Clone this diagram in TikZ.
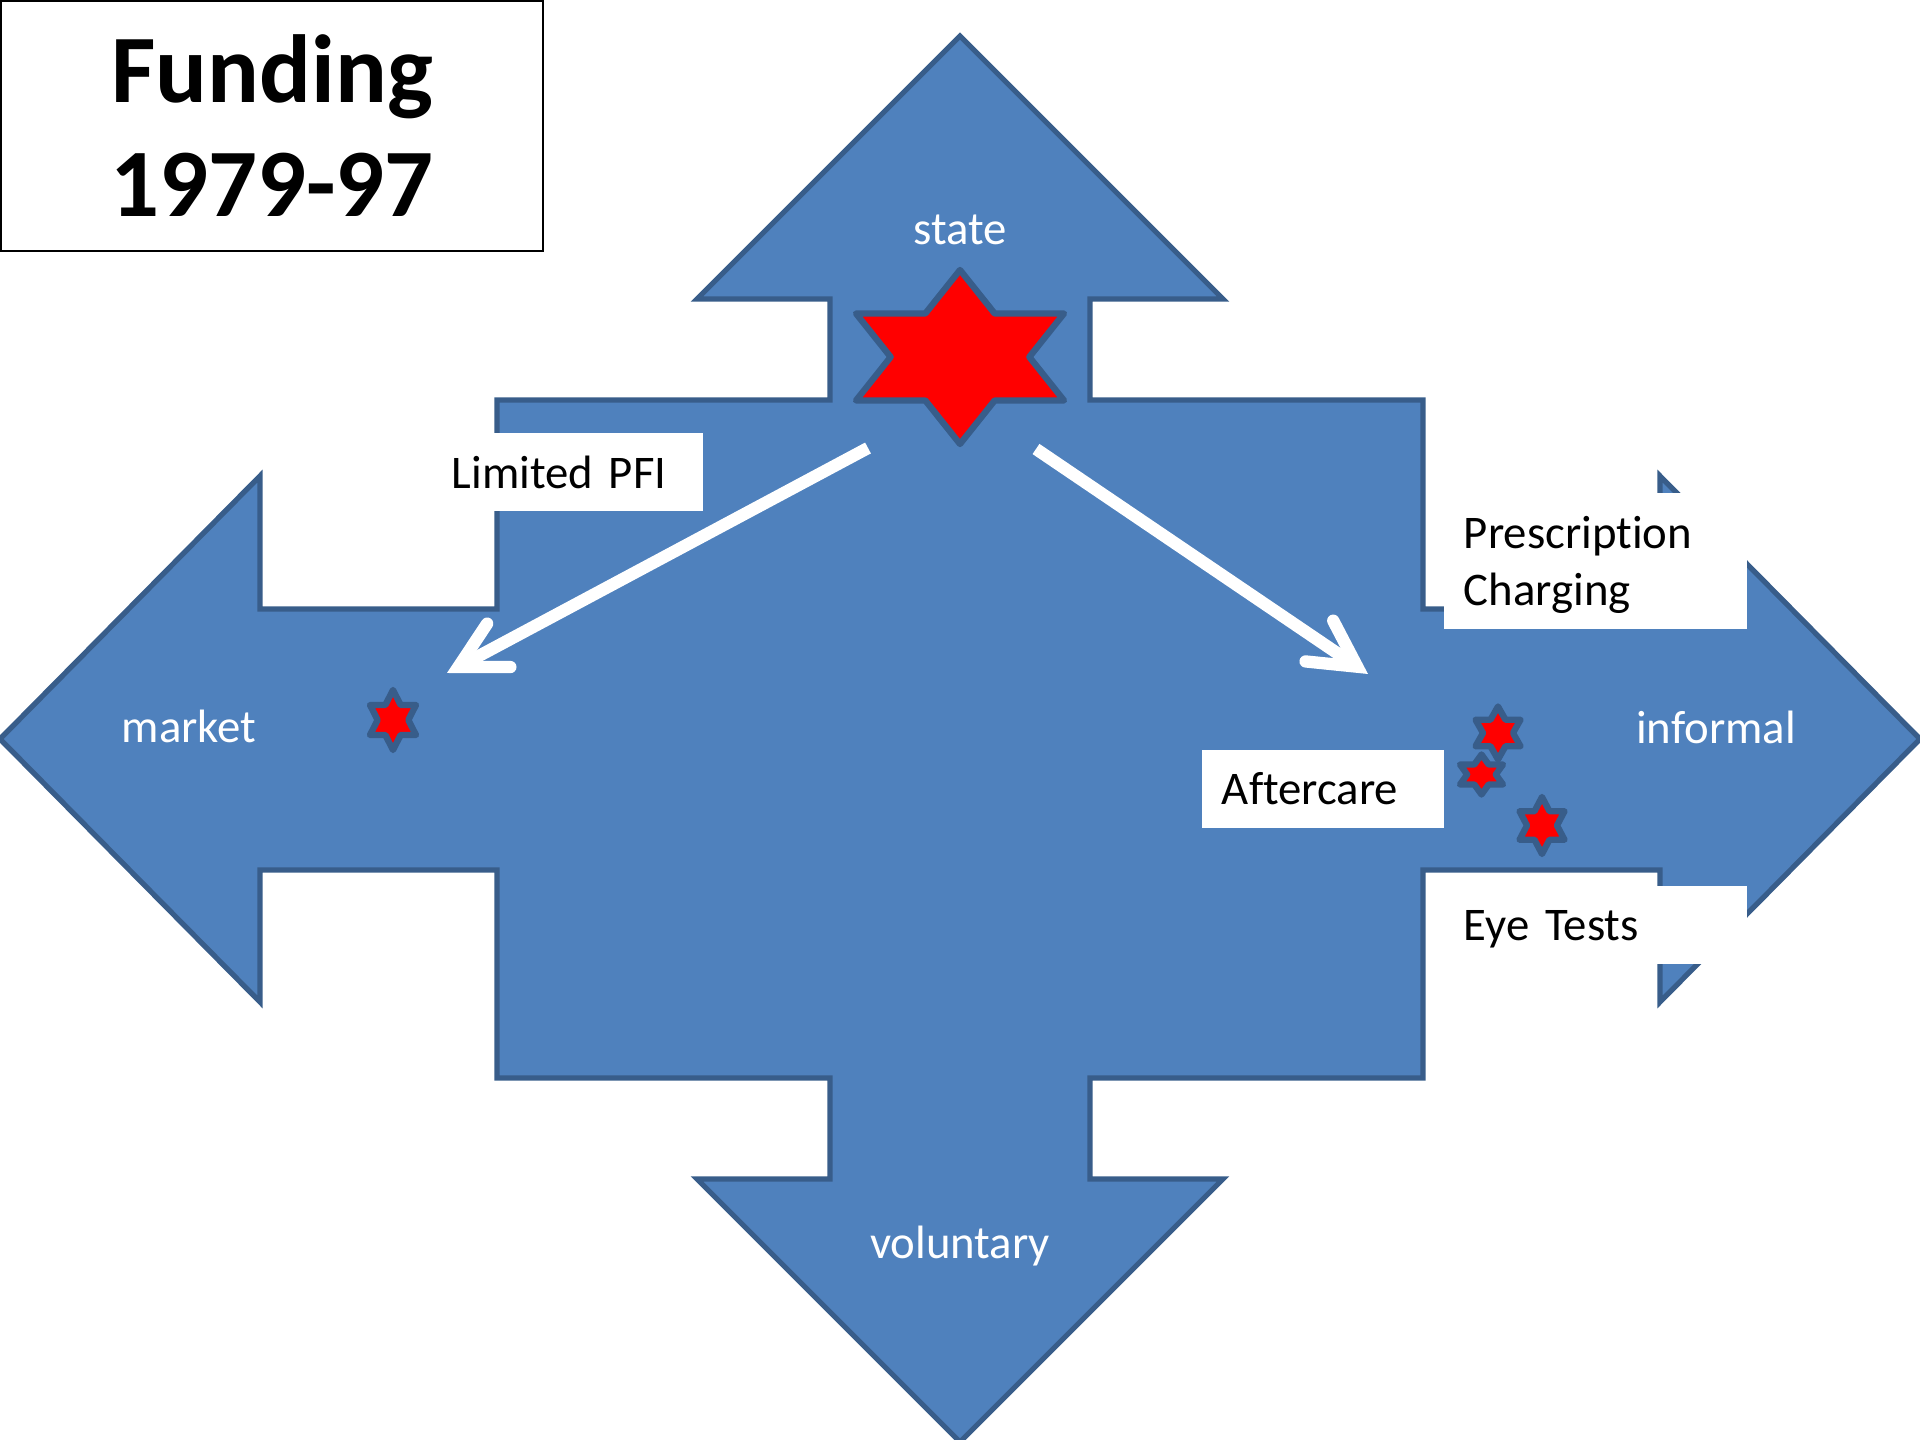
\documentclass[tikz,border=0pt]{standalone}
\usepackage{fontspec}
\setmainfont[Ligatures=NoCommon]{Carlito}
\usepackage{tikz}
\usetikzlibrary{arrows.meta}
\definecolor{armblue}{HTML}{4F81BD}
\definecolor{edgeblue}{HTML}{385D8A}
\tikzstyle{crossarrow} = [fill=armblue, draw=edgeblue, line width=1.5pt]
\tikzstyle{titlebox} = [rectangle, draw=black, line width=0.7pt, minimum width=54.2mm, minimum height=25mm, align=center, font=\bfseries\fontsize{27.5}{32.4}\selectfont]
\tikzstyle{labelbox} = [rectangle, fill=white, inner xsep=2mm, inner ysep=0pt, align=left, font=\fontsize{13.3}{16.3}\selectfont]
\tikzstyle{armlabel} = [text=white, anchor=base, font=\fontsize{13.3}{16.3}\selectfont]
\tikzstyle{redstar} = [fill=red, draw=edgeblue, line width=1.8pt, line join=round]
\tikzstyle{arrow} = [draw=white, line width=3.5pt, -{Straight Barb[line cap=round, line join=miter, length=13pt, width=14pt]}]
\newcommand{\sixstar}[4]{%
  \filldraw [redstar] ({#1},{#2-#4}) -- ({#1+#3/3},{#2-#4/2}) -- ({#1+#3},{#2-#4/2})
    -- ({#1+2*#3/3},{#2}) -- ({#1+#3},{#2+#4/2}) -- ({#1+#3/3},{#2+#4/2})
    -- ({#1},{#2+#4}) -- ({#1-#3/3},{#2+#4/2}) -- ({#1-#3},{#2+#4/2})
    -- ({#1-2*#3/3},{#2}) -- ({#1-#3},{#2-#4/2}) -- ({#1-#3/3},{#2-#4/2}) -- cycle;}

\begin{document}
\begin{tikzpicture}[x=0.01cm, y=-0.01cm]
               \useasboundingbox (0,0) rectangle (1920,1440);
               % four way arrow
               \draw [crossarrow] (960,36) -- (1223,299) -- (1090,299) -- (1090,400) -- (1423,400) -- (1423,609)
                 -- (1660,609) -- (1660,476) -- (1920,739) -- (1660,1002) -- (1660,870) -- (1423,870)
                 -- (1423,1078) -- (1090,1078) -- (1090,1179) -- (1223,1179) -- (960,1442) -- (697,1179)
                 -- (830,1179) -- (830,1078) -- (497,1078) -- (497,870) -- (260,870) -- (260,1002)
                 -- (0,739) -- (260,476) -- (260,609) -- (497,609) -- (497,400) -- (830,400)
                 -- (830,299) -- (697,299) -- cycle;
               \node [titlebox] at (272,126) (title) {Funding\\1979-97};
               \node [labelbox, text width=23.1mm, minimum height=7.8mm] at (567.5,472) (pfi) {Limited PFI};
               \node [labelbox, text width=26.3mm, minimum height=13.6mm, text depth=16.3pt] at (1595.5,561) (prescription) {Prescription\\Charging};
               \node [labelbox, text width=20.2mm, minimum height=7.8mm] at (1323,789) (aftercare) {Aftercare};
               \node [labelbox, text width=26.3mm, minimum height=7.8mm, text depth=0pt] at (1595.5,925) (eyetests) {Eye Tests};
               \node [armlabel] at (960,245) (state) {state};
               \node [armlabel] at (189,743) (market) {market};
               \node [armlabel] at (1716,744) (informal) {informal};
               \node [armlabel] at (960,1259) (voluntary) {voluntary};
               \coordinate (pfifrom) at (868,448);
               \coordinate (pfito) at (447,673);
               \coordinate (carefrom) at (1036,449);
               \coordinate (careto) at (1368,674);
               \draw [arrow] (pfifrom) -- (pfito);
               \draw [arrow] (carefrom) -- (careto);
               \sixstar{960}{357}{104}{87}
               \sixstar{393}{720}{23}{30}
               \sixstar{1481.5}{774.5}{21.5}{20}
               \sixstar{1498}{733}{22.5}{26.5}
               \sixstar{1542}{825.5}{22.5}{28.5}
               \end{tikzpicture}
\end{document}
